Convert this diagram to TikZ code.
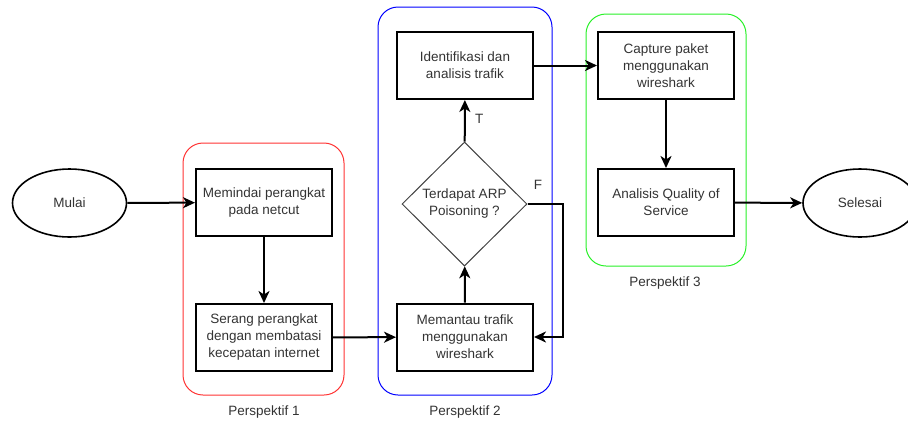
\documentclass[tikz,border=0pt]{standalone}
\usepackage{fontspec}
\setmainfont{Liberation Sans}
\usepackage{tikz}
\usetikzlibrary{shapes.geometric, arrows.meta, positioning}

\definecolor{teks}{RGB}{51,51,51}
\definecolor{merah}{RGB}{255,51,51}
\definecolor{biru}{RGB}{0,0,255}
\definecolor{hijau}{RGB}{40,240,40}

\begin{document}
\begin{tikzpicture}[x=1pt, y=-1pt,
    font=\fontsize{13.5}{17}\selectfont, text=teks,
    kotak/.style={draw, line width=2pt, minimum width=136pt, minimum height=67pt, align=center, inner sep=2pt},
    terminal/.style={draw, ellipse, line width=1.6pt, minimum width=114pt, minimum height=68pt, inner sep=0pt},
    keputusan/.style={draw=black!75, diamond, line width=1pt, minimum width=125pt, minimum height=124pt, inner sep=0pt, align=center},
    wadah/.style={rounded corners=20pt, line width=1pt},
    panah/.style={line width=2pt, -{Stealth[length=12pt, width=11pt, inset=3.5pt]}}]
            \useasboundingbox (0,0) rectangle (908,424);
            % kelompok perspektif
            \draw[wadah, merah] (183,143) rectangle (344,395);
            \draw[wadah, biru] (378,7) rectangle (552,395);
            \draw[wadah, hijau] (586,14) rectangle (746,266);
            \node (p1) at (264,412) {Perspektif 1};
            \node (p2) at (465,412) {Perspektif 2};
            \node (p3) at (665,283) {Perspektif 3};
            % langkah
            \node[terminal] (mulai) at (69.5,203) {Mulai};
            \node[kotak] (pindai) at (264,202.5) {Memindai perangkat\\pada netcut};
            \node[kotak] (serang) at (264,337.5) {Serang perangkat\\dengan membatasi\\kecepatan internet};
            \node[kotak] (pantau) at (465,337) {Memantau trafik\\menggunakan\\wireshark};
            \node[keputusan] (cek) at (464.5,204) {Terdapat ARP\\Poisoning ?};
            \node[kotak] (identifikasi) at (465,65.5) {Identifikasi dan\\analisis trafik};
            \node[kotak] (capture) at (666,65.5) {Capture paket\\menggunakan\\wireshark};
            \node[kotak] (analisis) at (666,202.5) {Analisis Quality of\\Service};
            \node[terminal] (selesai) at (860,203) {Selesai};
            % alur
            \draw[panah] (mulai) -- (pindai);
            \draw[panah] (pindai) -- (serang);
            \draw[panah] (serang) -- (pantau);
            \draw[panah] (pantau) -- (cek);
            \draw[panah] (cek) -- (identifikasi) node[pos=0.55, right, xshift=6pt] (t) {T};
            \draw[panah] (cek.east) -- ++(35,0) node[pos=0.3, above, yshift=10pt] (f) {F} |- (pantau.east);
            \draw[panah] (identifikasi) -- (capture);
            \draw[panah] (capture) -- (analisis);
            \draw[panah] (analisis) -- (selesai);
        \end{tikzpicture}
\end{document}
